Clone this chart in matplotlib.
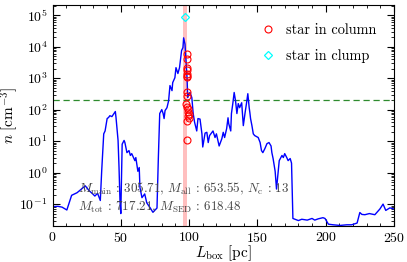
import matplotlib
matplotlib.use("Agg")
import matplotlib.pyplot as plt
from matplotlib.ticker import MultipleLocator, LogLocator

plt.rcParams['font.family'] = 'serif'
plt.rcParams['font.serif'] = ['cmr10']
plt.rcParams['mathtext.fontset'] = 'cm'
plt.rcParams['axes.formatter.use_mathtext'] = True
plt.rcParams['font.size'] = 10

# density profile along the box
L_box = [0, 4, 7, 10.5, 14, 18, 21.6, 24, 26.7, 29, 31, 33, 35, 36, 37.5, 38.5,
         40, 41, 42, 43.5, 45, 46, 46.5, 48, 48.7, 49.4, 50, 51, 52.4, 53, 54.5,
         56, 57, 58, 60.3, 61, 62.5, 63.5, 64, 65.5, 67.5, 69, 71.5, 73.5, 76.5,
         77.5, 78.5, 80, 81, 81.7, 82.4, 83.8, 85, 86, 87.5, 88, 89.6, 90.4,
         91.8, 93, 94.5, 95.5, 96, 97, 97.7, 98.5, 99, 100, 100.7, 102, 103,
         104, 105.6, 106.5, 108, 109.4, 110, 111, 111.7, 113, 114, 115, 117.5,
         119, 120, 122, 124, 125, 126, 127.5, 128.5, 129, 130.5, 131, 132, 133,
         134, 135, 136, 137, 138.5, 139.7, 141, 142, 143, 144, 144.5, 145, 146,
         147, 148, 150.6, 152, 153, 154, 155.5, 157, 158.5, 160, 160.6, 161.5,
         163, 164, 166, 168, 169, 170, 171.5, 172.5, 174, 175, 176, 180, 182.5,
         186.5, 190, 192, 194.5, 198, 199.5, 202, 205.5, 210.5, 215.5, 219, 223,
         225, 226.5, 228.7, 232, 236, 239.7, 242, 244, 247, 250]
n_gas = [0.083, 0.085, 0.08, 0.065, 0.19, 0.23, 0.31, 0.38, 0.27, 0.22, 0.18,
         0.22, 0.13, 1.1, 17, 21, 52, 56, 64, 60, 75, 87, 56, 10.5, 1.45, 0.13,
         0.05, 8, 10.5, 9, 4.3, 5, 3.5, 4, 2.4, 3, 1.1, 1.45, 0.34, 0.16, 0.21,
         0.11, 0.076, 0.055, 0.075, 3, 75, 100, 75, 52, 93, 115, 190, 580, 400,
         720, 1030, 2150, 1400, 2150, 7500, 9300, 19000, 12000, 3600, 1030, 240,
         320, 350, 240, 75, 40, 21, 52, 50, 17, 6.5, 12, 18, 19, 9, 15, 21, 13,
         17, 7, 12, 19, 13, 25, 55, 36, 21, 75, 155, 350, 190, 75, 155, 115, 165,
         31, 80, 155, 320, 115, 80, 52, 31, 17, 15, 13, 9, 5, 4.3, 5.8, 8.3, 9,
         7, 4.3, 2.8, 1.1, 0.3, 2.4, 3.5, 3.0, 4, 3, 2.4, 2.8, 2.0, 0.035, 0.03,
         0.033, 0.031, 0.035, 0.031, 0.034, 0.037, 0.035, 0.023, 0.022, 0.021,
         0.022, 0.022, 0.025, 0.054, 0.047, 0.046, 0.05, 0.046, 0.07, 0.1, 0.063,
         0.076, 0.07]

# stars
col_x = [98.5, 98.5, 98.3, 98.5, 98.5, 98.3, 98.5, 98.3, 98.5, 98.0, 98.5,
         99.0, 99.5, 100.0, 99.2, 99.8, 98.8, 98.5]
col_n = [6000, 3900, 2150, 1750, 1400, 1200, 1050, 350, 280, 155, 125, 108,
         87, 75, 65, 56, 45, 11]
clump_x = [97]
clump_n = [9e4]

n_thresh = 200
L_star = 97

fig, ax = plt.subplots(figsize=(4.07, 2.62), dpi=100)
fig.subplots_adjust(left=0.129, right=0.968, bottom=0.137, top=0.981)

ax.axvspan(L_star - 1.2, L_star + 1.2, color='red', alpha=0.25, lw=0)
ax.axhline(n_thresh, color='#2e8b2e', ls='--', lw=0.9, dashes=(5, 3))
ax.plot(L_box, n_gas, color='blue', lw=1.0)
ax.plot(col_x, col_n, 'o', mfc='none', mec='red', ms=5, mew=0.8,
        label='star in column')
ax.plot(clump_x, clump_n, 'D', mfc='none', mec='cyan', ms=4.5, mew=0.9,
        label='star in clump')

ax.set_yscale('log')
ax.set_xlim(0, 250)
ax.set_ylim(0.02, 2.1e5)
ax.xaxis.set_major_locator(MultipleLocator(50))
ax.xaxis.set_minor_locator(MultipleLocator(10))
ax.yaxis.set_major_locator(LogLocator(base=10, numticks=12))
ax.yaxis.set_minor_locator(LogLocator(base=10, subs=range(2, 10), numticks=12))
ax.tick_params(which='both', direction='in', top=True, right=True)
ax.tick_params(which='major', length=5)
ax.tick_params(which='minor', length=2.5)

ax.set_xlabel(r'$L_{\rm box}\ [{\rm pc}]$', fontsize=11)
ax.set_ylabel(r'$n\ [{\rm cm^{-3}}]$', fontsize=11)
ax.xaxis.set_label_coords(0.5, -0.077)
ax.yaxis.set_label_coords(-0.094, 0.5)

ax.text(0.075, 0.167, r'$M_{\rm main}$ : 305.71, $M_{\rm all}$ : 653.55, $N_{\rm c}$ : 13',
        transform=ax.transAxes, va='center', color='#444444', fontsize=9.4)
ax.text(0.075, 0.086, r'$M_{\rm tot}$ : 717.21, $M_{\rm SED}$ : 618.48',
        transform=ax.transAxes, va='center', color='#444444', fontsize=9.4)

ax.legend(loc='upper right', bbox_to_anchor=(0.985, 0.975), frameon=False,
          numpoints=1, handlelength=1, handletextpad=0.7, labelspacing=0.8,
          fontsize=10.3)

fig.savefig('out.png', dpi=100)
